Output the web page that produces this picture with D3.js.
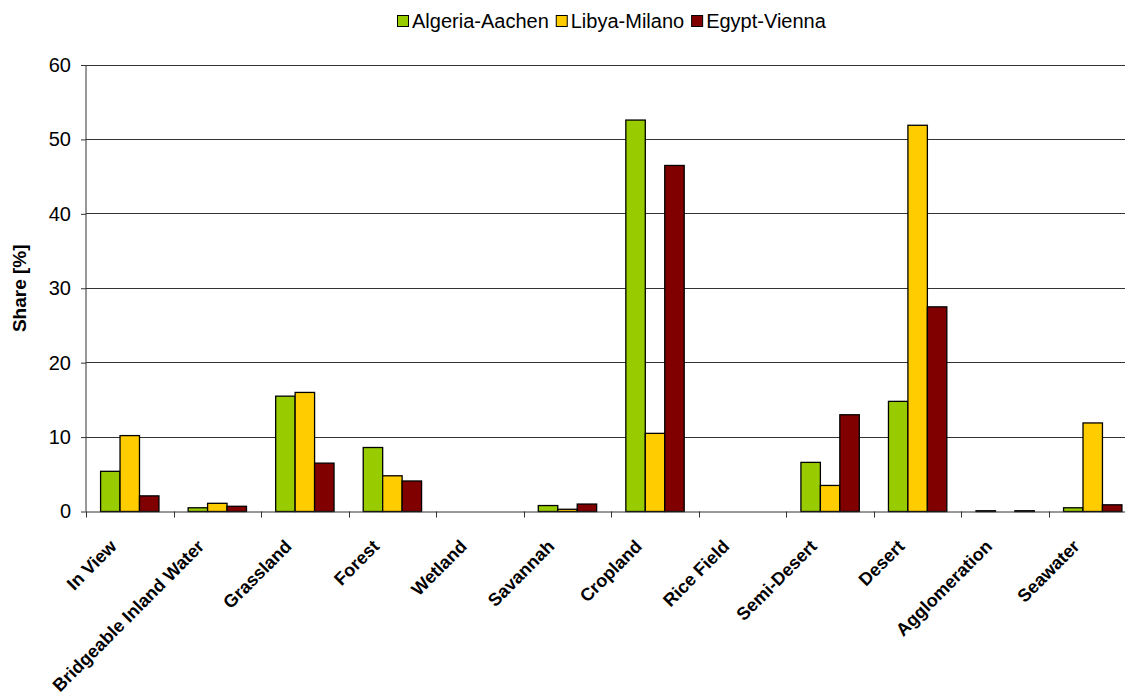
<!DOCTYPE html>
<html>
<head>
<meta charset="utf-8">
<script src="https://cdn.jsdelivr.net/npm/d3@7"></script>
<style>
  html, body { margin: 0; padding: 0; background: #fff; }
  svg { display: block; font-family: "Liberation Sans", Arial, sans-serif; }
</style>
</head>
<body>
<svg id="chart" width="1125" height="697"></svg>
<script>
// Land cover shares along three transmission corridors
const categories = ["In View", "Bridgeable Inland Water", "Grassland", "Forest", "Wetland",
  "Savannah", "Cropland", "Rice Field", "Semi-Desert", "Desert", "Agglomeration", "Seawater"];
const seriesNames = ["Algeria-Aachen", "Libya-Milano", "Egypt-Vienna"];
const algeriaAachen = [5.4, 0.5, 15.5, 8.6, 0, 0.8, 52.6, 0, 6.6, 14.8, 0.1, 0.5];
const libyaMilano   = [10.2, 1.1, 16.0, 4.8, 0, 0.3, 10.5, 0, 3.5, 51.9, 0, 11.9];
const egyptVienna   = [2.1, 0.7, 6.5, 4.1, 0, 1.0, 46.5, 0, 13.0, 27.5, 0.1, 0.9];
const yTicks = [0, 10, 20, 30, 40, 50, 60];
const colors = ["#99CC00", "#FFCC00", "#800000"];

const series = [algeriaAachen, libyaMilano, egyptVienna];

const svg = d3.select("#chart");
const margin = { left: 86, right: 1136.5, top: 65, bottom: 511.5 };

const x = d3.scaleBand().domain(categories).range([margin.left, margin.right]).paddingInner(0).paddingOuter(0);
// three bars per category with a 150% gap split around them
const xInner = d3.scaleBand().domain(seriesNames)
  .range([0, x.bandwidth()]).paddingInner(0).paddingOuter(0.75);
const y = d3.scaleLinear().domain([0, 60]).range([margin.bottom, margin.top]);

// horizontal gridlines
svg.append("g").selectAll("line").data(yTicks.filter(d => d > 0)).join("line")
  .attr("x1", margin.left).attr("x2", margin.right)
  .attr("y1", d => y(d)).attr("y2", d => y(d))
  .attr("stroke", "#333").attr("stroke-width", 1)
  .attr("shape-rendering", "crispEdges");

// bars
const groups = svg.append("g").selectAll("g").data(categories).join("g")
  .attr("transform", d => `translate(${x(d)},0)`);
groups.selectAll("rect")
  .data((c, i) => seriesNames.map((s, k) => ({ s, k, v: series[k][i] })))
  .join("rect")
  .attr("x", d => xInner(d.s))
  .attr("width", xInner.bandwidth())
  .attr("y", d => y(d.v))
  .attr("height", d => y(0) - y(d.v))
  .attr("fill", d => colors[d.k])
  .attr("stroke", "#000").attr("stroke-width", 1.3);

// y axis
const yAxis = d3.axisLeft(y).tickValues(yTicks).tickSize(5).tickPadding(10).tickFormat(d3.format("d"));
const gy = svg.append("g").attr("transform", `translate(${margin.left},0)`).call(yAxis);
gy.select(".domain").attr("stroke", "#333").attr("d", `M0,${y(60)}V${y(0)}`);
gy.selectAll(".tick line").attr("stroke", "#333");
gy.selectAll(".tick text").attr("font-size", 20).attr("fill", "#000")
  .attr("font-family", "Liberation Sans, Arial, sans-serif");

// x axis
const xAxis = d3.axisBottom(x).tickSize(0).tickFormat("");
const gx = svg.append("g").attr("transform", `translate(0,${y(0)})`).call(xAxis);
gx.select(".domain").attr("stroke", "#333").attr("d", `M${margin.left},0.5H${margin.right}`);
// category boundary ticks
const bounds = categories.map(c => x(c)).concat([margin.right]);
svg.append("g").selectAll("line").data(bounds).join("line")
  .attr("x1", d => Math.round(d) + 0.5).attr("x2", d => Math.round(d) + 0.5)
  .attr("y1", y(0)).attr("y2", y(0) + 6)
  .attr("stroke", "#333").attr("stroke-width", 1);

// rotated category labels
svg.append("g").selectAll("text").data(categories).join("text")
  .attr("transform", d => `translate(${x(d) + x.bandwidth() / 2 - 12},${y(0) + 36}) rotate(-45)`)
  .attr("text-anchor", "end")
  .attr("font-size", 18).attr("font-weight", "bold").attr("fill", "#000")
  .text(d => d);

// y axis title
svg.append("text")
  .attr("transform", `translate(26,${(y(0) + y(60)) / 2}) rotate(-90)`)
  .attr("text-anchor", "middle")
  .attr("font-size", 19).attr("font-weight", "bold").attr("fill", "#000")
  .text("Share [%]");

// legend laid out left to right from its measured text widths
const legend = svg.append("g").attr("transform", "translate(397,14)");
let lx = 0;
seriesNames.forEach((name, i) => {
  const item = legend.append("g").attr("transform", `translate(${lx},0)`);
  item.append("rect")
    .attr("x", 0.5).attr("y", 1.5).attr("width", 11).attr("height", 11)
    .attr("fill", colors[i]).attr("stroke", "#000").attr("stroke-width", 1);
  const t = item.append("text")
    .attr("x", 15).attr("y", 14)
    .attr("font-size", 20).attr("fill", "#000")
    .text(name);
  lx += 15 + t.node().getComputedTextLength() + 7;
});
</script>
</body>
</html>
